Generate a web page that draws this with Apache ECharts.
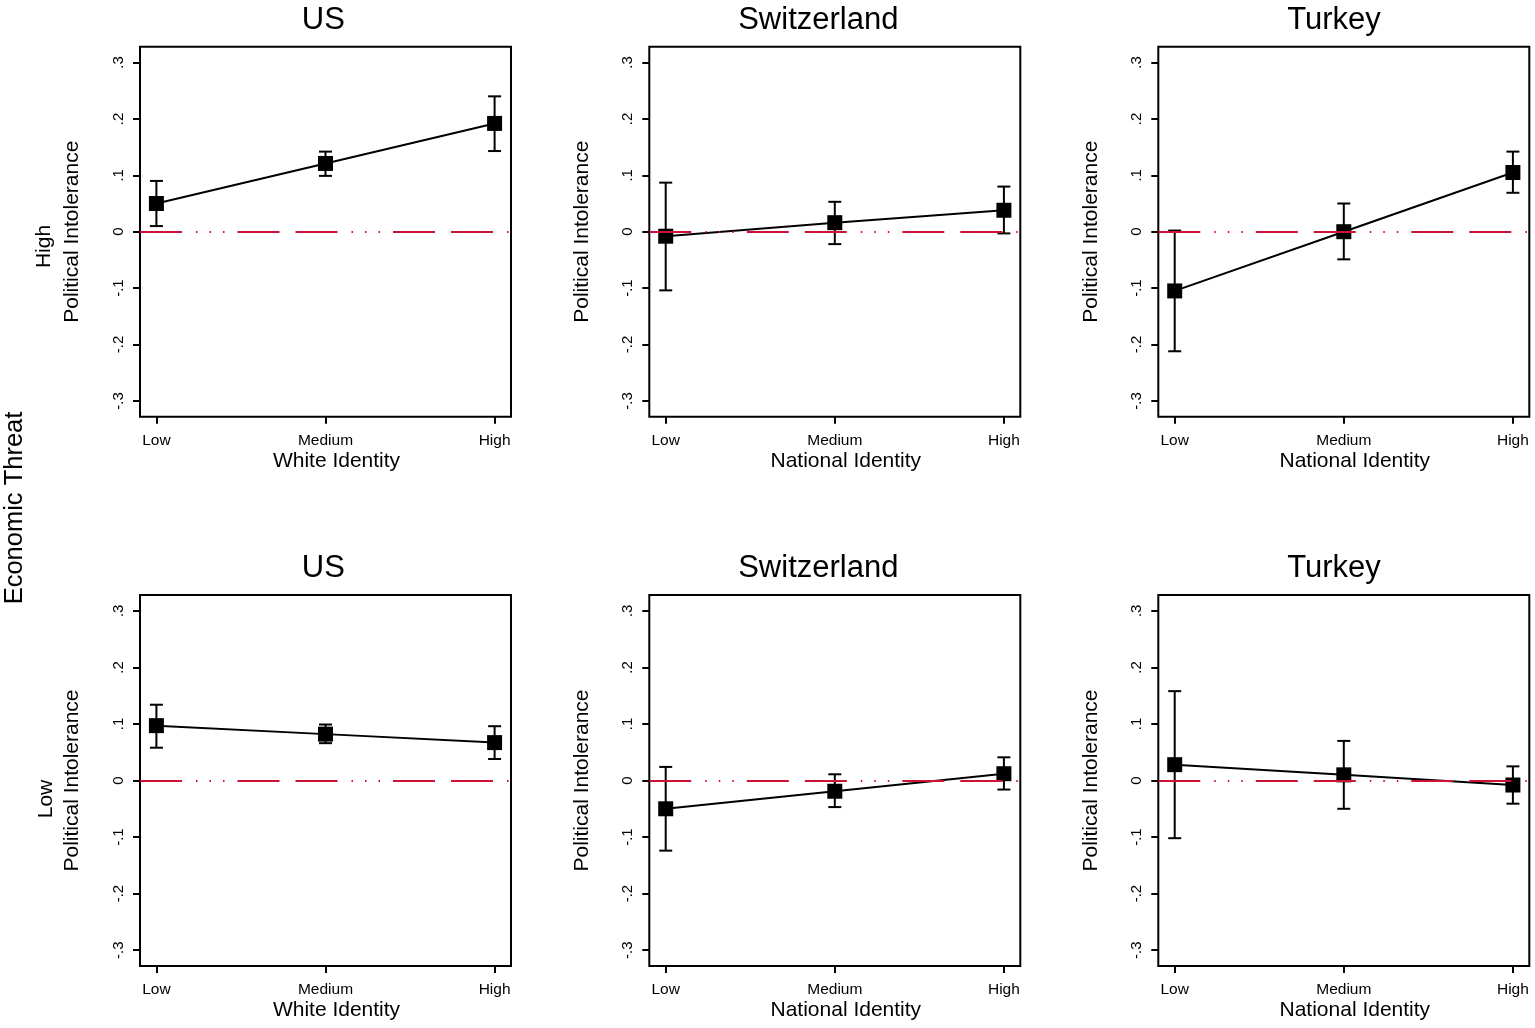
<!DOCTYPE html>
<html>
<head>
<meta charset="utf-8">
<script src="https://cdn.jsdelivr.net/npm/echarts@6/dist/echarts.min.js"></script>
<style>
  html, body { margin: 0; padding: 0; background: #fff; }
  #chart { width: 1535px; height: 1028px; }
</style>
</head>
<body>
<div id="chart"></div>
<script>
// ---------- data ----------
const xLabels = ['Low', 'Medium', 'High'];
const yTicks = [-0.3, -0.2, -0.1, 0, 0.1, 0.2, 0.3];
const countries = ['US', 'Switzerland', 'Turkey'];
const identityNames = ['White Identity', 'National Identity', 'National Identity'];
const threatLevels = ['High', 'Low'];
const yName = 'Political Intolerance';
const sideTitle = 'Economic Threat';

// High economic threat
const usHighEst = [0.050, 0.121, 0.192];
const usHighLo  = [0.010, 0.099, 0.143];
const usHighHi  = [0.090, 0.142, 0.240];
const chHighEst = [-0.008, 0.016, 0.038];
const chHighLo  = [-0.104, -0.022, -0.003];
const chHighHi  = [0.087, 0.053, 0.080];
const trHighEst = [-0.105, 0.000, 0.105];
const trHighLo  = [-0.212, -0.049, 0.069];
const trHighHi  = [0.002, 0.050, 0.142];

// Low economic threat
const usLowEst = [0.097, 0.082, 0.067];
const usLowLo  = [0.058, 0.066, 0.038];
const usLowHi  = [0.134, 0.099, 0.096];
const chLowEst = [-0.050, -0.019, 0.012];
const chLowLo  = [-0.124, -0.047, -0.016];
const chLowHi  = [0.024, 0.011, 0.041];
const trLowEst = [0.028, 0.010, -0.008];
const trLowLo  = [-0.102, -0.050, -0.041];
const trLowHi  = [0.158, 0.070, 0.025];

const panelData = [
  [usHighEst, usHighLo, usHighHi], [chHighEst, chHighLo, chHighHi], [trHighEst, trHighLo, trHighHi],
  [usLowEst, usLowLo, usLowHi],   [chLowEst, chLowLo, chLowHi],   [trLowEst, trLowLo, trLowHi]
];

// ---------- layout ----------
const FONT = '"Liberation Sans", Arial, Helvetica, sans-serif';
const colLeft = [140, 649.3, 1158.3];
const gridW = 371;
const rowTop = [46.7, 595];
const gridH = [370, 371];
const titleX = [323.3, 818.3, 1334];
const titleY = [20, 568];
const RED = '#cc1236';
const redDash = [42, 14, 1.5, 12, 1.5, 12, 1.5, 13, 42, 16];

function fmtY(v) {
  if (Math.abs(v) < 1e-9) return '0';
  const s = String(Math.round(Math.abs(v) * 10) / 10).replace(/^0/, '');
  return (v < 0 ? '-' : '') + s;
}

const grids = [], xAxes = [], yAxes = [], series = [], graphics = [];

for (let i = 0; i < 6; i++) {
  const row = Math.floor(i / 3), col = i % 3;
  grids.push({
    left: colLeft[col], top: rowTop[row], width: gridW, height: gridH[row],
    show: true, borderColor: '#000', borderWidth: 2, backgroundColor: '#fff'
  });
  xAxes.push({
    gridIndex: i, type: 'value', min: -0.097, max: 2.097, position: 'bottom',
    name: identityNames[col], nameLocation: 'middle', nameGap: 34,
    nameTextStyle: { fontSize: 21, color: '#000', fontFamily: FONT, padding: [0, 0, 0, 22] },
    axisLine: { show: false, onZero: false },
    axisTick: { show: true, inside: false, length: 7, customValues: [0, 1, 2], lineStyle: { color: '#000', width: 2 } },
    axisLabel: { customValues: [0, 1, 2], margin: 16, fontSize: 15.5, color: '#000', fontFamily: FONT,
      formatter: v => xLabels[Math.round(v)] },
    splitLine: { show: false }
  });
  yAxes.push({
    gridIndex: i, type: 'value', min: -0.328, max: 0.328, position: 'left',
    name: yName, nameLocation: 'middle', nameGap: 57,
    nameTextStyle: { fontSize: 21, color: '#000', fontFamily: FONT },
    axisLine: { show: false, onZero: false },
    axisTick: { show: true, inside: false, length: 7, customValues: yTicks, lineStyle: { color: '#000', width: 2 } },
    axisLabel: { customValues: yTicks, rotate: 90, margin: 14, fontSize: 15, color: '#000', fontFamily: FONT,
      formatter: fmtY },
    splitLine: { show: false }
  });

  const [est, lo, hi] = panelData[i];

  // zero reference line
  series.push({
    type: 'line', xAxisIndex: i, yAxisIndex: i, data: [], z: 1, silent: true,
    markLine: {
      silent: true, symbol: 'none', animation: false,
      label: { show: false },
      lineStyle: { color: RED, width: 2, type: redDash },
      data: [{ yAxis: 0 }]
    }
  });
  // confidence intervals
  series.push({
    type: 'custom', xAxisIndex: i, yAxisIndex: i, z: 3, silent: true,
    data: xLabels.map((_, j) => [j, lo[j], hi[j]]),
    encode: { x: 0, y: [1, 2] },
    renderItem: function (params, api) {
      const x = api.value(0);
      const pHi = api.coord([x, api.value(2)]);
      const pLo = api.coord([x, api.value(1)]);
      const hw = 6.5;
      const st = { stroke: '#000', lineWidth: 2 };
      return {
        type: 'group',
        children: [
          { type: 'line', shape: { x1: pHi[0], y1: pHi[1], x2: pLo[0], y2: pLo[1] }, style: st },
          { type: 'line', shape: { x1: pHi[0] - hw, y1: pHi[1], x2: pHi[0] + hw, y2: pHi[1] }, style: st },
          { type: 'line', shape: { x1: pLo[0] - hw, y1: pLo[1], x2: pLo[0] + hw, y2: pLo[1] }, style: st }
        ]
      };
    }
  });
  // point estimates
  series.push({
    type: 'line', xAxisIndex: i, yAxisIndex: i, z: 4, silent: true,
    data: xLabels.map((_, j) => [j, est[j]]),
    symbol: 'rect', symbolSize: 15,
    itemStyle: { color: '#000' },
    lineStyle: { color: '#000', width: 2 }
  });

  // panel title
  graphics.push({
    type: 'text', x: titleX[col], y: titleY[row],
    style: { text: countries[col], font: '31px ' + FONT, fill: '#000', textAlign: 'center', textVerticalAlign: 'middle' }
  });
}

// row labels (threat level) next to first column
const rowLabelPos = [[44, 246.5], [46, 799]];
for (let r = 0; r < 2; r++) {
  graphics.push({
    type: 'text', x: rowLabelPos[r][0], y: rowLabelPos[r][1], rotation: Math.PI / 2,
    style: { text: threatLevels[r], font: '21px ' + FONT, fill: '#000', textAlign: 'center', textVerticalAlign: 'middle' }
  });
}
graphics.push({
  type: 'text', x: 15, y: 508, rotation: Math.PI / 2,
  style: { text: sideTitle, font: '25.5px ' + FONT, fill: '#000', textAlign: 'center', textVerticalAlign: 'middle' }
});

const chart = echarts.init(document.getElementById('chart'), null, { renderer: 'canvas' });
chart.setOption({
  animation: false,
  backgroundColor: '#fff',
  textStyle: { fontFamily: FONT },
  grid: grids,
  xAxis: xAxes,
  yAxis: yAxes,
  series: series,
  graphic: graphics
});
</script>
</body>
</html>
